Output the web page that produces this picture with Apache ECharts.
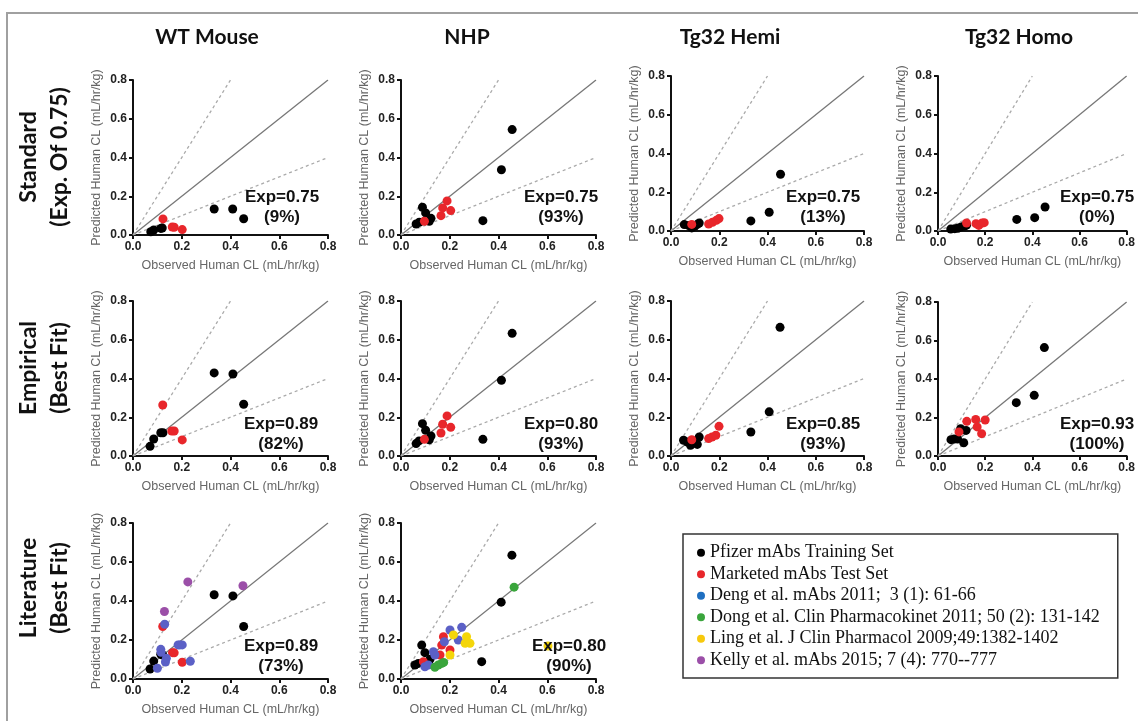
<!DOCTYPE html>
<html>
<head>
<meta charset="utf-8">
<script src="https://cdn.jsdelivr.net/npm/echarts@6/dist/echarts.min.js"></script>
<style>
  html, body { margin: 0; padding: 0; background: #fff; }
  #chart { width: 1138px; height: 721px; }
</style>
</head>
<body>
<div id="chart"></div>
<script>
// series names (legend)
const SET_NAMES = [
  "Pfizer mAbs Training Set",
  "Marketed mAbs Test Set",
  "Deng et al. mAbs 2011;  3 (1): 61-66",
  "Dong et al. Clin Pharmacokinet 2011; 50 (2): 131-142",
  "Ling et al. J Clin Pharmacol 2009;49:1382-1402",
  "Kelly et al. mAbs 2015; 7 (4): 770--777"
];
const SET_COLORS = ["#000000", "#e8262b", "#5b60c6", "#3aa53c", "#f4d60a", "#9b4fa8"];
const LEGEND_COLORS = ["#000000", "#e8262b", "#1f6fc1", "#3aa53c", "#f7c90c", "#9b4fa8"];

const colTitles = ["WT Mouse", "NHP", "Tg32 Hemi", "Tg32 Homo"];
const rowTitles = [["Standard", "(Exp. Of 0.75)"], ["Empirical", "(Best Fit)"], ["Literature", "(Best Fit)"]];

// reference lines: unity, 2-fold over, 2-fold under
const unityLine = [[0, 0], [0.8, 0.8]];
const twoFoldOver = [[0, 0], [0.4, 0.8]];
const twoFoldUnder = [[0, 0], [0.8, 0.4]];

// row 1: standard exponent 0.75
const wtStdTrain = [[0.073,0.017],[0.085,0.026],[0.114,0.034],[0.12,0.036],[0.333,0.134],[0.409,0.134],[0.454,0.084]];
const wtStdTest = [[0.123,0.083],[0.161,0.041],[0.169,0.04],[0.202,0.028]];
const nhpStdTrain = [[0.062,0.057],[0.075,0.066],[0.088,0.143],[0.101,0.114],[0.116,0.071],[0.123,0.086],[0.336,0.074],[0.412,0.337],[0.456,0.544]];
const nhpStdTest = [[0.096,0.071],[0.164,0.1],[0.171,0.14],[0.189,0.176],[0.204,0.126]];
const hemiStdTrain = [[0.055,0.033],[0.072,0.029],[0.086,0.016],[0.099,0.026],[0.109,0.034],[0.117,0.041],[0.331,0.052],[0.407,0.097],[0.454,0.293]];
const hemiStdTest = [[0.086,0.034],[0.156,0.036],[0.172,0.045],[0.188,0.055],[0.199,0.064]];
const homoStdTrain = [[0.054,0.01],[0.071,0.012],[0.084,0.014],[0.098,0.021],[0.112,0.026],[0.121,0.03],[0.334,0.06],[0.41,0.069],[0.454,0.124]];
const homoStdTest = [[0.121,0.041],[0.161,0.038],[0.173,0.029],[0.187,0.041],[0.196,0.043]];

// row 2: empirical best fit
const wtFitTrain = [[0.07,0.05],[0.085,0.088],[0.114,0.12],[0.123,0.12],[0.333,0.429],[0.41,0.423],[0.454,0.267]];
const wtFitTest = [[0.122,0.263],[0.159,0.129],[0.169,0.129],[0.202,0.083]];
const nhpFitTrain = [[0.062,0.064],[0.074,0.078],[0.088,0.167],[0.101,0.133],[0.116,0.084],[0.123,0.103],[0.336,0.086],[0.412,0.391],[0.456,0.633]];
const nhpFitTest = [[0.096,0.086],[0.164,0.119],[0.171,0.164],[0.189,0.207],[0.204,0.148]];
const hemiFitTrain = [[0.052,0.081],[0.068,0.072],[0.081,0.055],[0.095,0.069],[0.109,0.06],[0.117,0.098],[0.331,0.124],[0.407,0.228],[0.452,0.664]];
const hemiFitTest = [[0.086,0.084],[0.156,0.09],[0.17,0.098],[0.186,0.107],[0.199,0.153]];
const homoFitTrain = [[0.055,0.085],[0.068,0.088],[0.083,0.088],[0.096,0.142],[0.109,0.069],[0.119,0.133],[0.332,0.277],[0.408,0.315],[0.451,0.563]];
const homoFitTest = [[0.089,0.125],[0.122,0.18],[0.16,0.19],[0.166,0.151],[0.185,0.116],[0.2,0.187]];

// row 3: literature best fit
const wtLitTrain = [[0.07,0.051],[0.085,0.092],[0.114,0.127],[0.122,0.123],[0.333,0.432],[0.41,0.426],[0.454,0.269]];
const wtLitTest = [[0.122,0.269],[0.162,0.135],[0.169,0.134],[0.202,0.086]];
const wtLitDeng = [[0.1,0.055],[0.114,0.152],[0.115,0.137],[0.133,0.087],[0.137,0.106],[0.13,0.281],[0.185,0.175],[0.192,0.175],[0.202,0.175],[0.235,0.091]];
const wtLitKelly = [[0.129,0.346],[0.225,0.498],[0.451,0.478]];
const nhpLitTrain = [[0.057,0.072],[0.071,0.08],[0.085,0.174],[0.098,0.135],[0.112,0.086],[0.119,0.101],[0.331,0.089],[0.411,0.394],[0.455,0.635]];
const nhpLitTest = [[0.092,0.089],[0.16,0.123],[0.167,0.174],[0.174,0.217],[0.201,0.149]];
const nhpLitDeng = [[0.098,0.063],[0.112,0.072],[0.133,0.14],[0.139,0.123],[0.178,0.191],[0.201,0.251],[0.235,0.2],[0.249,0.265]];
const nhpLitDong = [[0.139,0.06],[0.153,0.072],[0.167,0.08],[0.175,0.085],[0.464,0.471]];
const nhpLitLing = [[0.201,0.123],[0.215,0.226],[0.263,0.183],[0.269,0.217],[0.283,0.183],[0.603,0.169]];

const panels = [
  { box: [133, 80, 195, 155], sets: [wtStdTrain, wtStdTest], note: ["Exp=0.75", "(9%)"], at: [282, 197] },
  { box: [401, 80, 195, 155], sets: [nhpStdTrain, nhpStdTest], note: ["Exp=0.75", "(93%)"], at: [561, 197] },
  { box: [671, 76, 193, 155], sets: [hemiStdTrain, hemiStdTest], note: ["Exp=0.75", "(13%)"], at: [823, 197] },
  { box: [938, 76, 195, 155], sets: [homoStdTrain, homoStdTest], note: ["Exp=0.75", "(0%)"], at: [1097, 197] },
  { box: [133, 301, 195, 155], sets: [wtFitTrain, wtFitTest], note: ["Exp=0.89", "(82%)"], at: [281, 424] },
  { box: [401, 301, 195, 155], sets: [nhpFitTrain, nhpFitTest], note: ["Exp=0.80", "(93%)"], at: [561, 424] },
  { box: [671, 301, 193, 155], sets: [hemiFitTrain, hemiFitTest], note: ["Exp=0.85", "(93%)"], at: [823, 424] },
  { box: [938, 302, 195, 154], sets: [homoFitTrain, homoFitTest], note: ["Exp=0.93", "(100%)"], at: [1097, 424] },
  { box: [133, 523, 195, 156], sets: [wtLitTrain, wtLitTest, wtLitDeng, null, null, wtLitKelly], note: ["Exp=0.89", "(73%)"], at: [281, 646] },
  { box: [401, 523, 195, 156], sets: [nhpLitTrain, nhpLitTest, nhpLitDeng, nhpLitDong, nhpLitLing, null], note: ["Exp=0.80", "(90%)"], at: [569, 646] }
];

const grid = [], xAxis = [], yAxis = [], series = [], graphic = [];
const tickFont = { fontFamily: "Liberation Sans", fontWeight: "bold", fontSize: 12, color: "#222" };
const nameFont = { fontFamily: "Liberation Sans", fontSize: 12.5, color: "#666" };

panels.forEach((p, i) => {
  grid.push({ left: p.box[0], top: p.box[1], width: p.box[2], height: p.box[3] });
  const common = {
    gridIndex: i, type: "value", min: 0, max: 0.8, interval: 0.2,
    nameLocation: "middle", nameTextStyle: nameFont,
    axisLine: { show: true, onZero: false, lineStyle: { color: "#111", width: 2 } },
    axisTick: { show: true, length: 4, lineStyle: { color: "#111", width: 2 } },
    axisLabel: Object.assign({ formatter: v => v.toFixed(1), margin: 6 }, tickFont),
    splitLine: { show: false }
  };
  xAxis.push(Object.assign({}, common, { name: "Observed Human CL (mL/hr/kg)", nameGap: 24 }));
  yAxis.push(Object.assign({}, common, { name: "Predicted Human CL (mL/hr/kg)", nameGap: 30 }));

  [[unityLine, "solid", "#777"], [twoFoldOver, [3, 3], "#aaa"], [twoFoldUnder, [3, 3], "#aaa"]].forEach(([d, t, c]) => {
    series.push({ type: "line", xAxisIndex: i, yAxisIndex: i, data: d, symbol: "none", silent: true, z: 1,
      lineStyle: { color: c, width: 1.3, type: t } });
  });
  p.sets.forEach((d, k) => {
    if (!d) return;
    series.push({ type: "scatter", name: SET_NAMES[k], xAxisIndex: i, yAxisIndex: i, data: d,
      symbolSize: 9, itemStyle: { color: SET_COLORS[k], opacity: 1 }, z: 3 });
  });

  graphic.push({ type: "text", x: p.at[0], y: p.at[1], z: 10,
    style: { text: p.note[0], align: "center", verticalAlign: "middle", fill: "#111",
      font: "bold 17px 'Liberation Sans'" } });
  graphic.push({ type: "text", x: p.at[0], y: p.at[1] + 20, z: 10,
    style: { text: p.note[1], align: "center", verticalAlign: "middle", fill: "#111",
      font: "bold 17px 'Liberation Sans'" } });
});

// column and row titles
const colX = [207, 467, 730, 1019];
colTitles.forEach((t, i) => {
  graphic.push({ type: "text", x: colX[i], y: 37,
    style: { text: t, align: "center", verticalAlign: "middle", fill: "#111", font: "bold 21px Lato" } });
});
const rowY = [157, 368, 588];
rowTitles.forEach((lines, i) => {
  lines.forEach((t, j) => {
    graphic.push({ type: "text", x: 29 + j * 31, y: rowY[i], rotation: Math.PI / 2,
      style: { text: t, align: "center", verticalAlign: "middle", fill: "#111", font: "bold 23px Lato" } });
  });
});

// outer frame
graphic.push({ type: "polyline", shape: { points: [[7, 721], [7, 13], [1138, 13]] },
  style: { stroke: "#a0a0a0", lineWidth: 2, fill: null } });

const chart = echarts.init(document.getElementById("chart"), null, { renderer: "canvas" });
chart.setOption({
  animation: false,
  backgroundColor: "#fff",
  grid, xAxis, yAxis, series, graphic,
  legend: {
    left: 683, top: 534, orient: "vertical", selectedMode: false,
    padding: [8, 18, 7, 14], itemGap: 0, itemWidth: 8, itemHeight: 8, icon: "circle",
    borderColor: "#333", borderWidth: 1.5,
    textStyle: { fontFamily: "Liberation Serif", fontSize: 18, color: "#111", lineHeight: 21.5 },
    data: SET_NAMES.map((n, k) => ({ name: n, itemStyle: { color: LEGEND_COLORS[k] } }))
  }
});
</script>
</body>
</html>
